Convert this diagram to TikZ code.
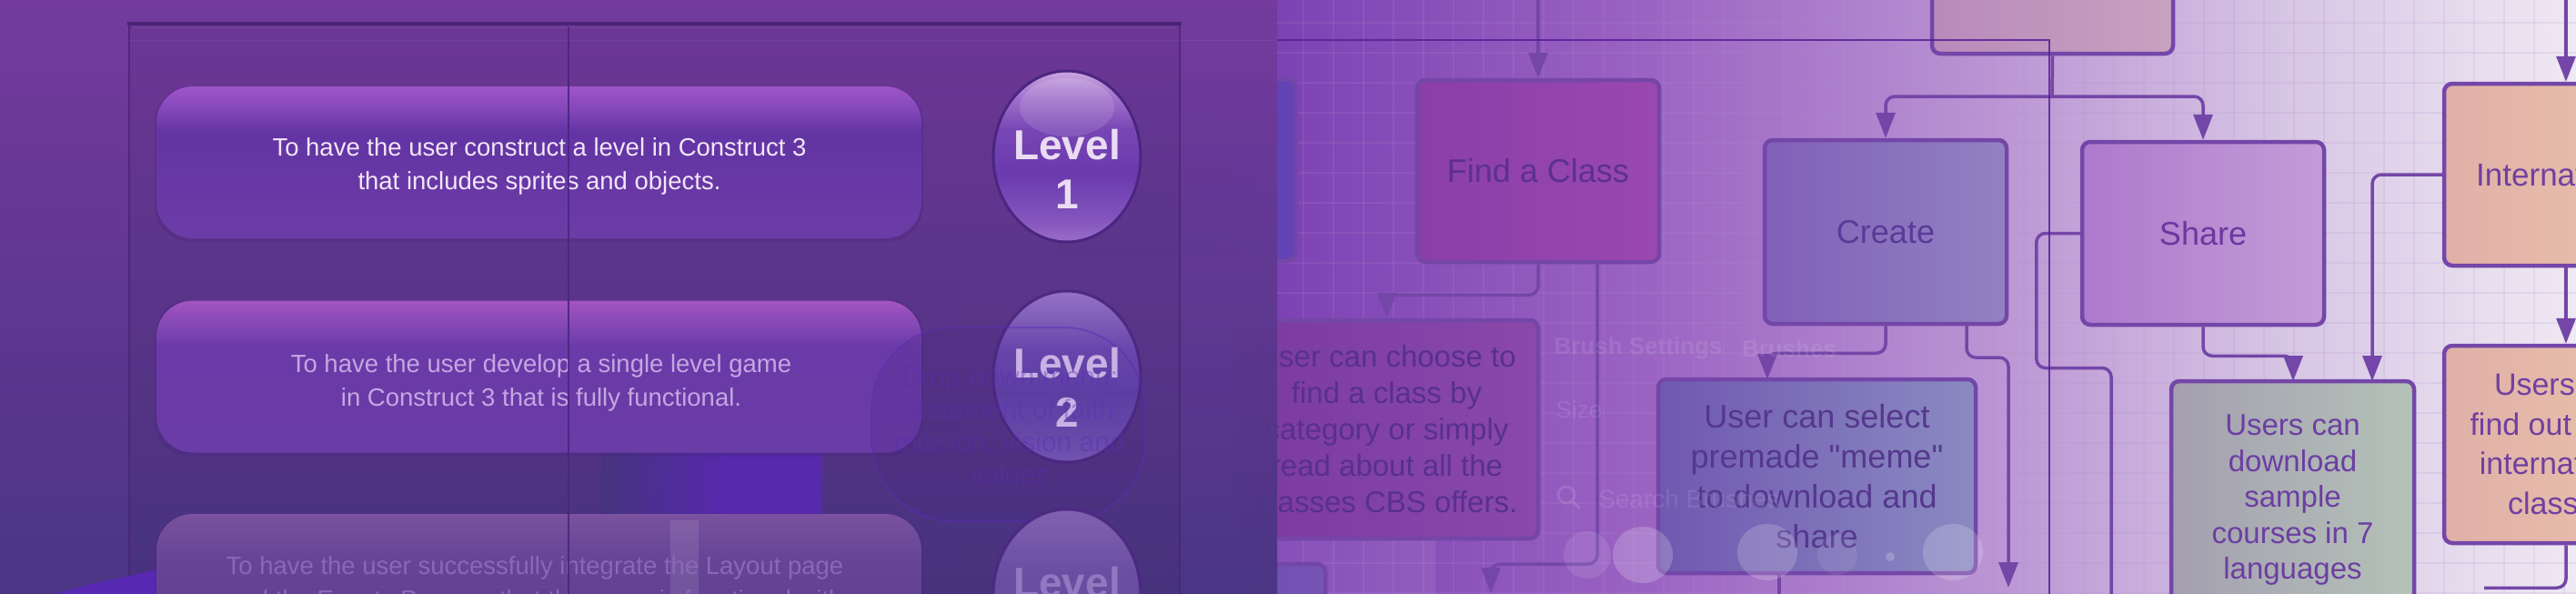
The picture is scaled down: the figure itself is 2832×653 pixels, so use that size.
\documentclass[tikz,border=0pt]{standalone}
\usepackage{fontspec}
\setmainfont{Liberation Sans}[Ligatures=TeXOff]
\usetikzlibrary{arrows.meta,calc,shapes.geometric}
\newcommand\myfs[2]{\fontsize{#1pt}{#2pt}\selectfont}
% background
\definecolor{bg0}{HTML}{7A40B0}
\definecolor{bg1}{HTML}{7C42B4}
\definecolor{bg2}{HTML}{9A62C2}
\definecolor{bg3}{HTML}{BB96D4}
\definecolor{bg4}{HTML}{D6C4E4}
\definecolor{bg5}{HTML}{EFE9F3}
\definecolor{gridc}{HTML}{B090CC}
\definecolor{ovT}{HTML}{743A9C}
\definecolor{ovB}{HTML}{463480}
\definecolor{frameD}{HTML}{4A2476}
\definecolor{frameL}{HTML}{7A48A8}
\definecolor{guide}{HTML}{5A1E96}
% flowchart
\definecolor{boxline}{HTML}{7446A8}
\definecolor{facL}{HTML}{8A3EA8}\definecolor{facR}{HTML}{9A48B0}\definecolor{facT}{HTML}{5C3090}
\definecolor{bluL}{HTML}{5A3AAE}\definecolor{bluR}{HTML}{6444B4}
\definecolor{topL}{HTML}{B88ABB}\definecolor{topR}{HTML}{C8A2C0}
\definecolor{crL}{HTML}{8060B8}\definecolor{crR}{HTML}{9282C2}\definecolor{crT}{HTML}{5A3A98}
\definecolor{shL}{HTML}{AE7ACC}\definecolor{shR}{HTML}{C39CD8}\definecolor{shT}{HTML}{6A38A0}
\definecolor{chL}{HTML}{7A3AA2}\definecolor{chR}{HTML}{8A48AA}\definecolor{chT}{HTML}{58308E}
\definecolor{seL}{HTML}{7058B0}\definecolor{seR}{HTML}{8A8AC2}\definecolor{seT}{HTML}{55388E}
\definecolor{dlL}{HTML}{A49FB0}\definecolor{dlR}{HTML}{B4C2B8}\definecolor{dlT}{HTML}{6C3EA2}
\definecolor{inL}{HTML}{E0B0A8}\definecolor{inR}{HTML}{ECC4AA}\definecolor{inT}{HTML}{7040A0}
\definecolor{blbL}{HTML}{6A4CB0}\definecolor{blbR}{HTML}{7454B4}
% left panel
\definecolor{pAt}{HTML}{9E55C8}\definecolor{pAm2}{HTML}{8246B8}\definecolor{pAm}{HTML}{6234A4}\definecolor{pAb}{HTML}{6C3CA6}
\definecolor{pBt}{HTML}{A454C2}\definecolor{pBm2}{HTML}{8448B4}\definecolor{pBm}{HTML}{6A3AA8}\definecolor{pBb}{HTML}{6A3CA6}
\definecolor{pCt}{HTML}{7A529E}\definecolor{pCm2}{HTML}{6E4A9A}\definecolor{pCm}{HTML}{664496}\definecolor{pCb}{HTML}{5E3C8C}
\definecolor{lAt}{HTML}{CAA6DE}\definecolor{lAa}{HTML}{A070CC}\definecolor{lAm}{HTML}{7846B4}\definecolor{lAd}{HTML}{6A3AAE}\definecolor{lAb}{HTML}{8254BC}\definecolor{lAbb}{HTML}{9A6CC8}
\definecolor{lBt}{HTML}{9C7ACB}\definecolor{lBa}{HTML}{8464BE}\definecolor{lBm}{HTML}{6A48B0}\definecolor{lBd}{HTML}{5E40A6}\definecolor{lBb}{HTML}{6A4CAE}\definecolor{lBbb}{HTML}{7658B6}
\definecolor{lCt}{HTML}{8A6AB8}\definecolor{lCm}{HTML}{6E52A8}
\definecolor{ring}{HTML}{4A2680}
\definecolor{t1}{HTML}{F2E6F6}\definecolor{t2}{HTML}{C4A6E2}\definecolor{t3}{HTML}{8A68B8}
\definecolor{lv1}{HTML}{EADCF2}\definecolor{lv2}{HTML}{C8B2E4}\definecolor{lv3}{HTML}{9278C0}
\definecolor{ghost}{HTML}{5A2EB4}
\definecolor{vivid}{HTML}{5828B2}
\pgfdeclareverticalshading{pillA}{100bp}{color(0bp)=(pAb); color(25bp)=(pAb); color(60bp)=(pAm); color(67bp)=(pAm2); color(75bp)=(pAt); color(100bp)=(pAt)}
\pgfdeclareverticalshading{pillB}{100bp}{color(0bp)=(pBb); color(25bp)=(pBb); color(60bp)=(pBm); color(67bp)=(pBm2); color(75bp)=(pBt); color(100bp)=(pBt)}
\pgfdeclareverticalshading{pillC}{100bp}{color(0bp)=(pCb); color(25bp)=(pCb); color(60bp)=(pCm); color(67bp)=(pCm2); color(75bp)=(pCt); color(100bp)=(pCt)}
\pgfdeclareverticalshading{lvA}{100bp}{color(0bp)=(lAbb); color(25bp)=(lAbb); color(32bp)=(lAb); color(45bp)=(lAd); color(58bp)=(lAm); color(67bp)=(lAa); color(75bp)=(lAt); color(100bp)=(lAt)}
\pgfdeclareverticalshading{lvB}{100bp}{color(0bp)=(lBbb); color(25bp)=(lBbb); color(32bp)=(lBb); color(45bp)=(lBd); color(58bp)=(lBm); color(67bp)=(lBa); color(75bp)=(lBt); color(100bp)=(lBt)}
\pgfdeclareverticalshading{lvC}{100bp}{color(0bp)=(lCm); color(25bp)=(lCm); color(55bp)=(lCm); color(75bp)=(lCt); color(100bp)=(lCt)}
\begin{document}
\begin{tikzpicture}[x=1pt,y=-1pt,
  box/.style={draw=boxline, line width=4.5pt, rounded corners=9pt, inner sep=0pt, align=center},
  conn/.style={draw=boxline, line width=3.5pt, rounded corners=10pt},
  arr/.style={-{Triangle[length=28pt,width=21pt]}},
  gridl/.style={draw=gridc, line width=1.2pt, opacity=0.16},
  gh/.style={text=white, text opacity=0.1, inner sep=0pt},
  pillbox/.style={shade, rounded corners=40pt, inner sep=0pt, minimum width=841pt, minimum height=167pt},
  pilltxt/.style={font=\myfs{27.5}{36.5}, align=center, inner sep=0pt},
  lvbox/.style={ellipse, shade, inner sep=0pt, minimum width=162pt, minimum height=188pt, draw=ring, line width=3pt},
  lvtxt/.style={font=\bfseries\myfs{46}{54}, align=center, inner sep=0pt}]
\useasboundingbox (0,0) rectangle (2832,653);
\clip (0,0) rectangle (2832,653);
% ---------- background ----------
\shade[left color=bg0, right color=bg1] (0,0) rectangle (1405,653);
\shade[left color=bg1, right color=bg2] (1404,0) rectangle (1801,653);
\shade[left color=bg2, right color=bg3] (1800,0) rectangle (2201,653);
\shade[left color=bg3, right color=bg4] (2200,0) rectangle (2501,653);
\shade[left color=bg4, right color=bg5] (2500,0) rectangle (2832,653);
\foreach \i in {0,...,43} { \draw[gridl] ({1400+33*\i},0) -- ({1400+33*\i},653); }
\foreach \j in {0,...,19} { \draw[gridl] (1400,{25+33*\j}) -- (2832,{25+33*\j}); }
\fill[white, opacity=0.08] (1404,572) rectangle (1578,653);
% ---------- flowchart boxes ----------
\node[box, left color=bluL, right color=bluR, minimum width=265pt, minimum height=200pt] (blu) at (1292.5,187) {};
\node[box, left color=facL, right color=facR, minimum width=266pt, minimum height=200pt, text=facT, font=\myfs{36}{44}] (fac) at (1691,188) {Find a Class};
\node[box, left color=topL, right color=topR, minimum width=265pt, minimum height=200pt] (topbox) at (2256.5,-41) {};
\node[box, left color=crL, right color=crR, minimum width=266pt, minimum height=202pt, text=crT, font=\myfs{36}{44}] (create) at (2073,255) {Create};
\node[box, left color=shL, right color=shR, minimum width=266pt, minimum height=201pt, text=shT, font=\myfs{36}{44}] (share) at (2422,256.5) {Share};
\node[box, left color=chL, right color=chR, minimum width=333pt, minimum height=240pt, text=chT, font=\myfs{33}{40}] (choose) at (1524.5,472) {User can choose to\\find a class by\\category or simply\\read about all the\\classes CBS offers.};
\node[box, left color=seL, right color=seR, minimum width=349pt, minimum height=213pt, text=seT, font=\myfs{36}{44}] (select) at (1997.5,523.5) {User can select\\premade "meme"\\to download and\\share};
\node[box, left color=dlL, right color=dlR, minimum width=267pt, minimum height=262pt, text=dlT, font=\myfs{33}{39.5}] (download) at (2520.5,550) {Users can\\download\\sample\\courses in 7\\languages};
\node[box, left color=inL, right color=inR, minimum width=263pt, minimum height=200pt, text=inT, font=\myfs{35}{43}] (internal) at (2818.5,192) {International};
\node[box, left color=inL, right color=inR, minimum width=263pt, minimum height=217pt, text=inT, font=\myfs{34}{43.5}] (users) at (2818.5,488.5) {Users can\\find out about\\international\\classes.};
\node[box, left color=blbL, right color=blbR, minimum width=168pt, minimum height=200pt] (blbox) at (1373,720) {};
% ---------- connectors ----------
\coordinate (facin) at (1691,-5);
\coordinate (split) at (2256,106);
\coordinate (f2a) at (1756,288);
\coordinate (f2e) at (1639,652);
\coordinate (selin) at (1943,417);
\coordinate (cr2) at (2162,356);
\coordinate (cr2e) at (2208,646);
\coordinate (shle) at (2321,660);
\coordinate (dlin) at (2521,419);
\coordinate (dlin2) at (2608,419);
\coordinate (intin) at (2821,-5);
\coordinate (selb) at (1956,630);
\draw[conn,arr] (facin) -- (fac.north);
\draw[conn] (topbox.south) -- (split);
\draw[conn,arr] (split) -| (create.north);
\draw[conn,arr] (split) -| (share.north);
\draw[conn,arr] (fac.south) -- ++(0,34) -| (choose.north);
\draw[conn,arr] (f2a) -- ++(0,332) -| (f2e);
\draw[conn,arr] (create.south) -- ++(0,30) -| (selin);
\draw[conn,arr] (cr2) -- ++(0,37) -| (cr2e);
\draw[conn] (share.west) -- ++(-48,0) -- ++(0,148) -| (shle);
\draw[conn,arr] (share.south) -- ++(0,32) -| (dlin);
\draw[conn,arr] (internal.west) -| (dlin2);
\draw[conn,arr] (intin) -- (intin |- internal.north);
\draw[conn,arr] (internal.south -| intin) -- (users.north -| intin);
\draw[conn] (users.south -| intin) -- ++(0,47) -- ++(-90,0);
\draw[conn] (selb) -- ++(0,40);
% ---------- ghost UI ----------
\node[gh, font=\bfseries\myfs{26}{30}] (g1) at (1801,383) {Brush Settings};
\node[gh, font=\bfseries\myfs{26}{30}] (g2) at (1967,383) {Brushes};
\node[gh, font=\myfs{26}{30}] (g3) at (1736,450) {Size};
\node[gh, font=\myfs{28}{30}, anchor=west] (g4) at (1757,548) {Search Brushes};
\draw[white, opacity=0.12, line width=3pt] (1722,544) circle[radius=9] (1729,551) -- (1737,559);
\fill[white, opacity=0.10] (1745,610) circle[radius=26];
\fill[white, opacity=0.2] (1806,610) ellipse[x radius=33, y radius=31];
\fill[white, opacity=0.18] (1943,607) ellipse[x radius=33, y radius=31];
\fill[white, opacity=0.18] (2147,607) ellipse[x radius=33, y radius=31];
\fill[white, opacity=0.2] (2078,612) circle[radius=5];
\fill[white, opacity=0.08] (2020,610) circle[radius=22];
% guide lines
\draw[guide, line width=1.6pt, opacity=0.85] (1404,44) -- (2253,44) -- (2253,653);
% ---------- dark overlay panel ----------
\shade[top color=ovT, bottom color=ovB, opacity=0.9] (0,0) rectangle (1404,653);
\draw[white, opacity=0.05, line width=1pt] (142,44) -- (1404,44);
\fill[black, opacity=0.05] (142,26) rectangle (1297,653);
\draw[frameD, line width=4pt] (140,26) -- (1299,26);
\draw[frameL, line width=1.5pt, opacity=0.8] (146,30.5) -- (1293,30.5);
\draw[frameD, line width=2pt, opacity=0.8] (142,26) -- (142,653);
\draw[frameD, line width=2pt, opacity=0.8] (1297,26) -- (1297,653);
% noisy vivid patches
\shade[left color=ovB, right color=vivid, opacity=0.9] (661,498) rectangle (800,565);
\fill[vivid, opacity=0.9] (800,498) rectangle (904,565);
\fill[vivid] (60,653) -- (100,642) -- (130,636) -- (172,626) -- (172,653) -- cycle;
% ---------- pills ----------
\fill[ring, opacity=0.35, rounded corners=40pt] (170,95) rectangle (1015,266);
\node[pillbox, shading=pillA] (p1) at (592.5,178.5) {};
\node[pilltxt, text=t1] (p1t) at (593,183) {To have the user construct a level in Construct 3\\that includes sprites and objects.};
\fill[ring, opacity=0.35, rounded corners=40pt] (170,330) rectangle (1015,502);
\node[pillbox, shading=pillB] (p2) at (592.5,414) {};
\node[pilltxt, text=t2] (p2t) at (595,421) {To have the user develop a single level game\\in Construct 3 that is fully functional.};
\fill[ring, opacity=0.35, rounded corners=40pt] (170,565) rectangle (1015,740);
\node[pillbox, shading=pillC, minimum height=170pt] (p3) at (592.5,650) {};
\fill[white, opacity=0.1] (737,572) rectangle (768,653);
\node[pilltxt, text=t3] (p3t) at (588,643) {To have the user successfully integrate the Layout page\\and the Events Page so that the game is functional with};
\draw[ring, line width=1.2pt, opacity=0.9] (625,30) -- (625,653);
% ---------- level badges ----------
\node[lvbox, shading=lvA] (lv1) at (1173,172) {};
\fill[white, opacity=0.12] (1173,118) ellipse[x radius=52, y radius=32];
\node[lvtxt, text=lv1] (lv1t) at (1173,185.5) {Level\\1};
\fill[ring, opacity=0.2, rounded corners=90pt] (958,360) rectangle (1259,573);
\node[lvbox, shading=lvB, opacity=0.9] (lv2) at (1173,414) {};
\draw[ghost, line width=2pt, opacity=0.5, rounded corners=90pt] (958,360) rectangle (1259,573);
\node[lvtxt, text=lv2] (lv2t) at (1173,426) {Level\\2};
\node[font=\myfs{30}{36}, align=center, text=ghost, text opacity=0.38] (ghostt) at (1110,467.5) {Drop-down menu:\\statement of faith\\mission, vision and\\values};
\node[lvbox, shading=lvC, opacity=0.85] (lv3) at (1173,654) {};
\node[lvtxt, text=lv3] (lv3t) at (1173,667) {Level\\3};
\end{tikzpicture}
\end{document}
